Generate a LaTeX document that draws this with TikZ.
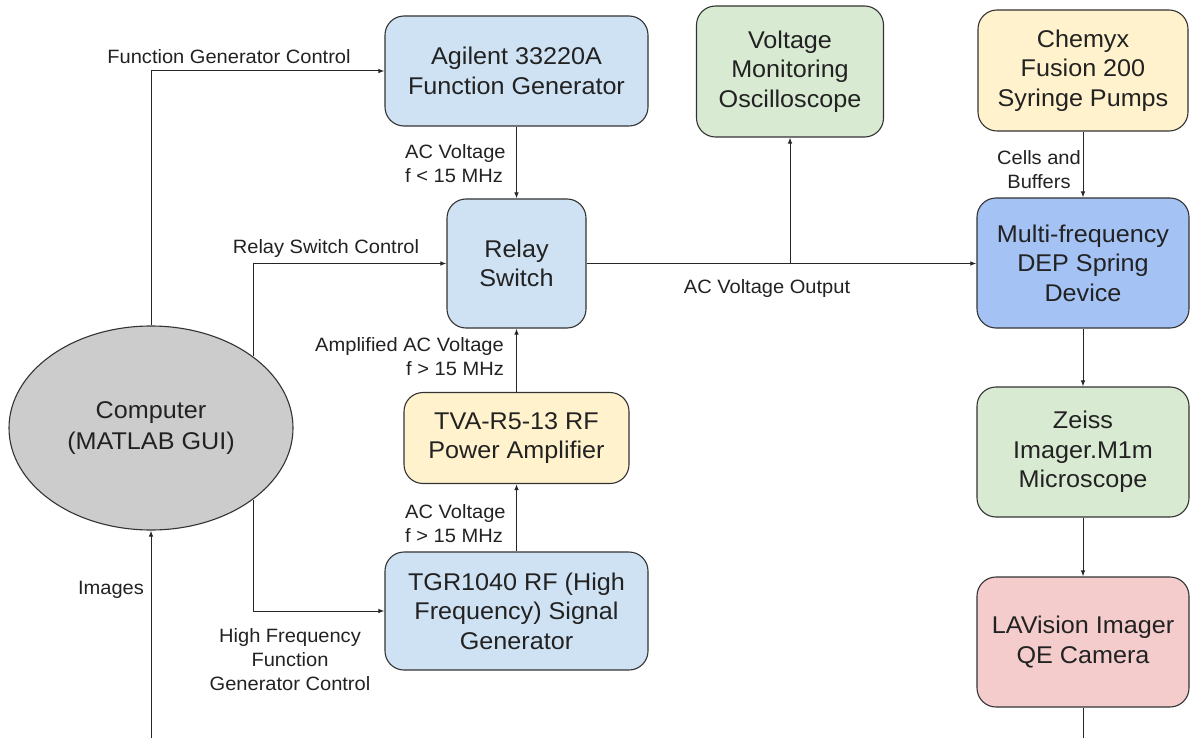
\documentclass[tikz,border=0pt]{standalone}
\usepackage{fontspec}
\setmainfont{Liberation Sans}[FakeStretch=1.04]
\usetikzlibrary{shapes.geometric,arrows.meta,calc}
\definecolor{bluebox}{HTML}{CFE2F3}
\definecolor{depblue}{HTML}{A4C2F4}
\definecolor{greenbox}{HTML}{D9EAD3}
\definecolor{yellowbox}{HTML}{FFF2CC}
\definecolor{redbox}{HTML}{F4CCCC}
\definecolor{graybox}{HTML}{CCCCCC}
\definecolor{edgecol}{HTML}{333333}
\definecolor{txt}{HTML}{222222}
\begin{document}
\begin{tikzpicture}[x=1pt,y=-1pt,
  box/.style={draw=edgecol, line width=1.1pt, rounded corners=19pt, align=center, text=txt,
    font=\fontsize{24.2}{29.5}\selectfont, inner sep=0pt},
  lab/.style={text=txt, font=\fontsize{19.3}{24}\selectfont, inner sep=0pt},
  conn/.style={draw=black!85, line width=1pt},
  arr/.style={conn, -{Latex[length=6pt,width=4.5pt]}}
]
\useasboundingbox[fill=white] (0,0) rectangle (1191,738);

% boxes
\node[box, fill=bluebox, minimum width=263pt, minimum height=110pt] (agil) at (516.5,71) {Agilent 33220A\\Function Generator};
\node[box, fill=bluebox, minimum width=139pt, minimum height=129pt] (relay) at (516.5,263.5) {Relay\\Switch};
\node[box, fill=yellowbox, minimum width=225pt, minimum height=91pt] (tva) at (516.5,438) {TVA-R5-13 RF\\Power Amplifier};
\node[box, fill=bluebox, minimum width=263pt, minimum height=118pt] (tgr) at (516.5,611) {TGR1040 RF (High\\Frequency) Signal\\Generator};
\node[box, fill=greenbox, minimum width=187pt, minimum height=131pt] (osc) at (790,71.5) {Voltage\\Monitoring\\Oscilloscope};
\node[box, fill=yellowbox, minimum width=210pt, minimum height=121pt] (chem) at (1083,70.5) {Chemyx\\Fusion 200\\Syringe Pumps};
\node[box, fill=depblue, minimum width=212pt, minimum height=130pt] (dep) at (1083,263) {Multi-frequency\\DEP Spring\\Device};
\node[box, fill=greenbox, minimum width=212pt, minimum height=130pt] (zeiss) at (1083,452) {Zeiss\\Imager.M1m\\Microscope};
\node[box, fill=redbox, minimum width=212pt, minimum height=130pt] (lav) at (1083,642) {LAVision Imager\\QE Camera};
\node[draw=edgecol, line width=1.1pt, ellipse, fill=graybox, minimum width=284pt, minimum height=204pt,
  inner sep=0pt, align=center, text=txt, font=\fontsize{24.2}{31}\selectfont] (comp) at (151,428) {Computer\\(MATLAB GUI)};

% free ends
\coordinate (imgin) at (151,738);
\coordinate (camout) at (1083,738);

% connectors
\draw[arr] (comp.north) |- (agil.west);
\draw[arr] (comp.35.9) |- (relay.west);
\draw[arr] (comp.-35.9) |- (tgr.west);
\draw[arr] (agil.south) -- (relay.north);
\draw[arr] (tva.north) -- (relay.south);
\draw[arr] (tgr.north) -- (tva.south);
\draw[arr] (relay.east) -- (relay.east -| dep.west);
\draw[arr] (relay.east -| osc.south) -- (osc.south);
\draw[arr] (chem.south) -- (dep.north);
\draw[arr] (dep.south) -- (zeiss.north);
\draw[arr] (zeiss.south) -- (lav.north);
\draw[conn] (lav.south) -- (camout);
\draw[arr] (imgin) -- (comp.south);

% labels
\node[lab] (lfgc) at (229,57) {Function Generator Control};
\node[lab] (lrsc) at (326,249) {Relay Switch Control};
\node[lab, align=center] (lhf) at (290,660) {High Frequency\\Function\\Generator Control};
\node[lab, align=left, anchor=west] (lac1) at (405,164) {AC Voltage\\f < 15 MHz};
\node[lab, align=right, anchor=east] (lamp) at (504,357) {Amplified AC Voltage\\f > 15 MHz};
\node[lab, align=left, anchor=west] (lac2) at (405,524) {AC Voltage\\f > 15 MHz};
\node[lab] (lout) at (767,289) {AC Voltage Output};
\node[lab, align=center] (lcb) at (1039,170) {Cells and\\Buffers};
\node[lab] (limg) at (111,590) {Images};
\end{tikzpicture}
\end{document}
